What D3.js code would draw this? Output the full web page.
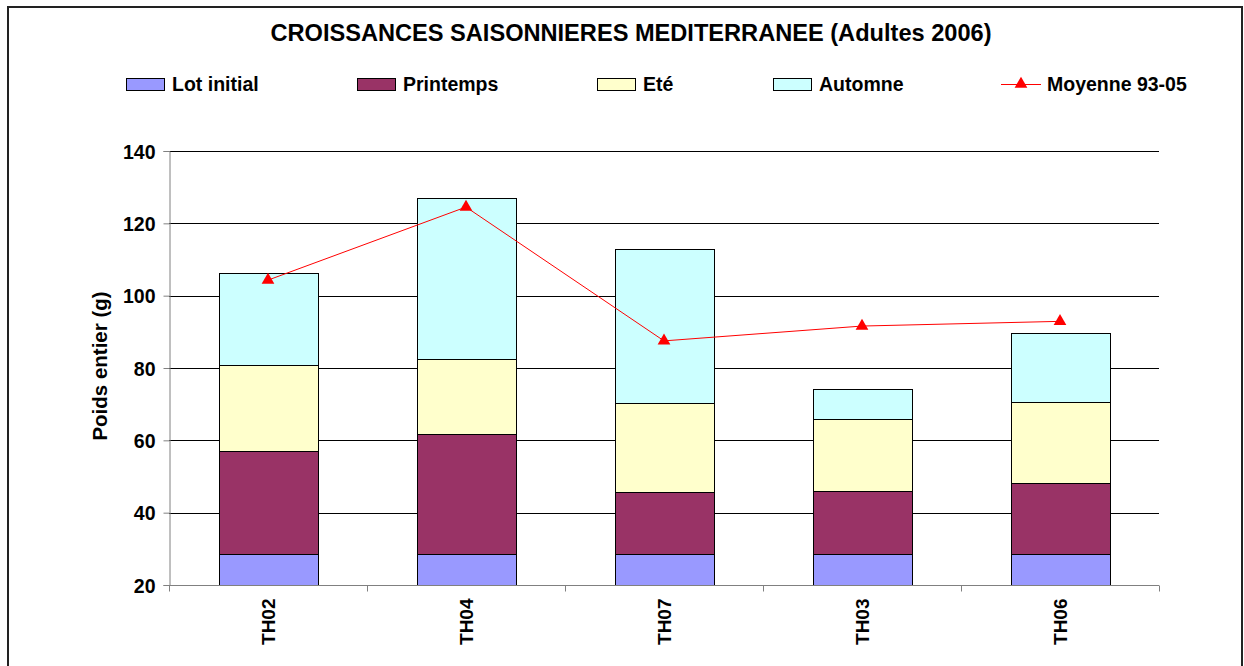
<!DOCTYPE html>
<html>
<head>
<meta charset="utf-8">
<script src="https://cdn.jsdelivr.net/npm/d3@7"></script>
<style>
  body { margin: 0; background: #fff; }
  svg text { font-family: Arial, "Liberation Sans", sans-serif; font-weight: bold; fill: #000; }
</style>
</head>
<body>
<div id="chart"></div>
<script>
// data
var categories = ["TH02", "TH04", "TH07", "TH03", "TH06"];
var seriesNames = ["Lot initial", "Printemps", "Eté", "Automne"];
var lotInitial = [28.7, 28.7, 28.7, 28.7, 28.7];
var printemps = [28.3, 33.0, 17.0, 17.4, 19.4];
var ete = [23.8, 20.7, 24.7, 19.9, 22.4];
var automne = [25.6, 44.5, 42.5, 8.1, 19.3];
var moyenne = [104.3, 124.5, 87.5, 91.6, 92.9];
var moyenneName = "Moyenne 93-05";
var yTicks = [20, 40, 60, 80, 100, 120, 140];

var colors = ["#9999ff", "#993366", "#ffffcc", "#ccffff"];

var width = 1244, height = 666;
var margin = {left: 169, right: 85, top: 151, bottom: 81};

var svg = d3.select("#chart").append("svg")
    .attr("width", width)
    .attr("height", height);

// outer frame
svg.append("path")
    .attr("d", "M8,700 V7 H1242 V700")
    .attr("fill", "none")
    .attr("stroke", "#222")
    .attr("stroke-width", 2);

var x = d3.scaleBand()
    .domain(categories)
    .range([margin.left, width - margin.right])
    .paddingInner(0.5)
    .paddingOuter(0.25);

var y = d3.scaleLinear()
    .domain([20, 140])
    .range([height - margin.bottom, margin.top]);

// title
svg.append("text")
    .attr("x", 631)
    .attr("y", 41)
    .attr("text-anchor", "middle")
    .style("font-size", "23.6px")
    .text("CROISSANCES SAISONNIERES MEDITERRANEE (Adultes 2006)");

// gridlines
svg.append("g")
    .selectAll("line")
    .data(yTicks.filter(function(d) { return d > 20; }))
    .enter().append("line")
    .attr("x1", margin.left)
    .attr("x2", width - margin.right)
    .attr("y1", function(d) { return Math.round(y(d)) + 0.5; })
    .attr("y2", function(d) { return Math.round(y(d)) + 0.5; })
    .attr("stroke", "#000")
    .attr("stroke-width", 1);

// stacked bars
var rows = categories.map(function(c, i) {
    return {cat: c, "Lot initial": lotInitial[i], "Printemps": printemps[i], "Eté": ete[i], "Automne": automne[i]};
});
var stack = d3.stack().keys(seriesNames)(rows);

svg.append("g")
    .selectAll("g")
    .data(stack)
    .enter().append("g")
    .attr("fill", function(d, i) { return colors[i]; })
    .selectAll("rect")
    .data(function(d) { return d; })
    .enter().append("rect")
    .attr("x", function(d) { return Math.round(x(d.data.cat)) + 0.5; })
    .attr("width", Math.round(x.bandwidth()))
    .attr("y", function(d) { return Math.round(y(d[1])) + 0.5; })
    .attr("height", function(d) {
        return Math.round(y(Math.max(d[0], 20))) - Math.round(y(d[1]));
    })
    .attr("stroke", "#000")
    .attr("stroke-width", 1);

// y axis
var yAxis = svg.append("g")
    .attr("transform", "translate(" + (margin.left + 0.5) + ",0)")
    .call(d3.axisLeft(y).tickValues(yTicks).tickSize(6).tickPadding(8));
yAxis.select(".domain").attr("stroke", "#808080");
yAxis.selectAll(".tick line").attr("stroke", "#808080");
yAxis.selectAll("text").style("font-size", "19.5px").attr("dy", "0.36em");

// x axis (ticks between categories)
var xAxisG = svg.append("g")
    .attr("transform", "translate(0," + (Math.round(y(20)) + 0.5) + ")");
xAxisG.append("line")
    .attr("x1", margin.left)
    .attr("x2", width - margin.right)
    .attr("stroke", "#808080");
var step = x.step();
xAxisG.selectAll(".sep")
    .data(d3.range(categories.length + 1))
    .enter().append("line")
    .attr("x1", function(i) { return Math.round(margin.left + i * step) + 0.5; })
    .attr("x2", function(i) { return Math.round(margin.left + i * step) + 0.5; })
    .attr("y1", 0)
    .attr("y2", 6)
    .attr("stroke", "#808080");
xAxisG.selectAll(".lbl")
    .data(categories)
    .enter().append("text")
    .attr("transform", function(d) {
        return "translate(" + (x(d) + x.bandwidth() / 2 + 7) + ",13) rotate(-90)";
    })
    .attr("text-anchor", "end")
    .style("font-size", "19px")
    .text(function(d) { return d; });

// y axis title
svg.append("text")
    .attr("transform", "translate(107,366) rotate(-90)")
    .attr("text-anchor", "middle")
    .style("font-size", "20.5px")
    .text("Poids entier (g)");

// average line
var line = d3.line()
    .x(function(d, i) { return x(categories[i]) + x.bandwidth() / 2; })
    .y(function(d) { return y(d); });
svg.append("path")
    .datum(moyenne)
    .attr("d", line)
    .attr("fill", "none")
    .attr("stroke", "#ff0000")
    .attr("stroke-width", 1);

var tri = d3.symbol().type(d3.symbolTriangle).size(70);
svg.append("g")
    .selectAll("path")
    .data(moyenne)
    .enter().append("path")
    .attr("d", tri)
    .attr("transform", function(d, i) {
        return "translate(" + (x(categories[i]) + x.bandwidth() / 2) + "," + y(d) + ")";
    })
    .attr("fill", "#ff0000");

// legend
var legendX = [126, 357, 597, 773];
var legend = svg.append("g");
seriesNames.forEach(function(name, i) {
    legend.append("rect")
        .attr("x", legendX[i] + 0.5)
        .attr("y", 78.5)
        .attr("width", 38)
        .attr("height", 12)
        .attr("fill", colors[i])
        .attr("stroke", "#000");
    legend.append("text")
        .attr("x", legendX[i] + 46)
        .attr("y", 91)
        .style("font-size", "19.5px")
        .text(name);
});
legend.append("line")
    .attr("x1", 1001).attr("x2", 1041)
    .attr("y1", 84.5).attr("y2", 84.5)
    .attr("stroke", "#ff0000");
legend.append("path")
    .attr("d", tri)
    .attr("transform", "translate(1021,84)")
    .attr("fill", "#ff0000");
legend.append("text")
    .attr("x", 1047)
    .attr("y", 91)
    .style("font-size", "19.5px")
    .text(moyenneName);
</script>
</body>
</html>
